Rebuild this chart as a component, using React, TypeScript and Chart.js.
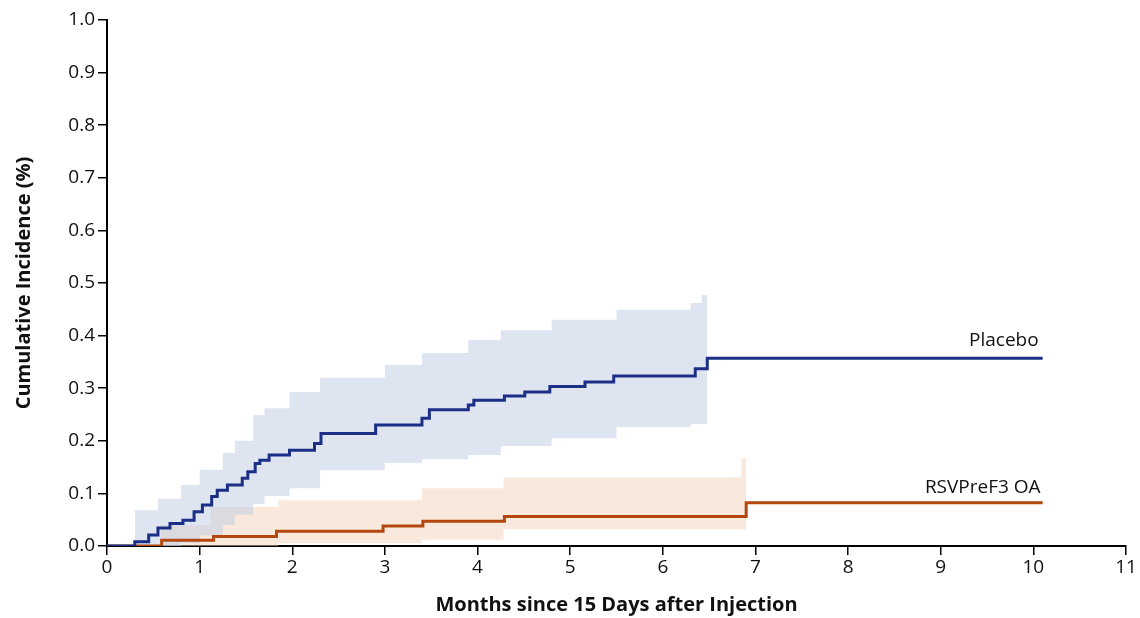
import React, { useEffect, useRef } from 'react';
import { Chart, registerables } from 'chart.js';

Chart.register(...registerables);

// Kaplan-Meier style step curves (month of step, cumulative incidence % after the step)
const placeboMonths = [0, 0.3, 0.45, 0.55, 0.68, 0.82, 0.94, 1.03, 1.13, 1.19, 1.3, 1.46, 1.52, 1.6, 1.65, 1.75, 1.97, 2.24, 2.31, 2.9, 3.4, 3.48, 3.9, 3.96, 4.29, 4.51, 4.78, 5.16, 5.47, 6.35, 6.48, 10.1];
const placeboValues = [0, 0.008, 0.021, 0.034, 0.043, 0.049, 0.065, 0.078, 0.094, 0.106, 0.116, 0.129, 0.141, 0.157, 0.163, 0.173, 0.182, 0.195, 0.214, 0.23, 0.243, 0.259, 0.268, 0.277, 0.285, 0.293, 0.303, 0.312, 0.323, 0.337, 0.357, 0.357];

const vaccineMonths = [0, 0.59, 1.15, 1.83, 2.98, 3.41, 4.29, 6.9, 10.1];
const vaccineValues = [0, 0.011, 0.018, 0.028, 0.038, 0.047, 0.056, 0.082, 0.082];

// 95% confidence bands
const placeboBandMonths = [0.3, 0.55, 0.8, 1.0, 1.25, 1.38, 1.58, 1.7, 1.97, 2.3, 3.0, 3.4, 3.9, 4.25, 4.8, 5.5, 6.3, 6.42, 6.48];
const placeboUpper = [0.068, 0.09, 0.116, 0.145, 0.177, 0.2, 0.249, 0.262, 0.293, 0.32, 0.344, 0.367, 0.392, 0.41, 0.43, 0.449, 0.462, 0.477, 0.477];
const placeboLower = [0.0, 0.0, 0.005, 0.02, 0.04, 0.06, 0.08, 0.095, 0.11, 0.144, 0.158, 0.165, 0.173, 0.19, 0.205, 0.226, 0.232, 0.232, 0.232];

const vaccineBandMonths = [0.58, 1.12, 1.85, 3.4, 4.28, 6.85, 6.9];
const vaccineUpper = [0.04, 0.074, 0.087, 0.11, 0.13, 0.167, 0.167];
const vaccineLower = [0.0, 0.0, 0.005, 0.012, 0.032, 0.032, 0.032];

const seriesNames = ['Placebo', 'RSVPreF3 OA'];
const xTitle = 'Months since 15 Days after Injection';
const yTitle = 'Cumulative Incidence (%)';

const FONT = '"Open Sans", "Noto Sans", sans-serif';

const pts = (xs: number[], ys: number[]) => xs.map((x, i) => ({ x, y: ys[i] }));

const labelPlugin = {
  id: 'seriesLabels',
  afterDatasetsDraw(chart: any) {
    const { ctx, scales } = chart;
    const x = scales.x;
    const y = scales.y;
    ctx.save();
    ctx.font = `19px ${FONT}`;
    ctx.fillStyle = '#111';
    ctx.textAlign = 'right';
    ctx.textBaseline = 'alphabetic';
    const pEnd = placeboMonths[placeboMonths.length - 1];
    const pVal = placeboValues[placeboValues.length - 1];
    ctx.fillText(seriesNames[0], x.getPixelForValue(pEnd) - 4, y.getPixelForValue(pVal) - 12);
    const vEnd = vaccineMonths[vaccineMonths.length - 1];
    const vVal = vaccineValues[vaccineValues.length - 1];
    ctx.fillText(seriesNames[1], x.getPixelForValue(vEnd) - 2, y.getPixelForValue(vVal) - 10);
    ctx.restore();
  },
};

export default function App() {
  const ref = useRef<HTMLCanvasElement>(null);

  useEffect(() => {
    if (!ref.current) return;
    const chart = new Chart(ref.current, {
      type: 'line',
      data: {
        datasets: [
          {
            label: seriesNames[0],
            data: pts(placeboMonths, placeboValues),
            stepped: 'before',
            borderColor: '#1b2f86',
            borderWidth: 3,
            pointRadius: 0,
            fill: false,
          },
          {
            label: seriesNames[1],
            data: pts(vaccineMonths, vaccineValues),
            stepped: 'before',
            borderColor: '#b3470e',
            borderWidth: 3,
            pointRadius: 0,
            fill: false,
          },
          {
            label: 'placeboUpper',
            data: pts(placeboBandMonths, placeboUpper),
            stepped: 'before',
            borderWidth: 0,
            borderColor: 'rgba(0,0,0,0)',
            backgroundColor: 'rgba(196, 206, 230, 0.55)',
            pointRadius: 0,
            fill: '+1',
          },
          {
            label: 'placeboLower',
            data: pts(placeboBandMonths, placeboLower),
            stepped: 'before',
            borderWidth: 0,
            borderColor: 'rgba(0,0,0,0)',
            pointRadius: 0,
            fill: false,
          },
          {
            label: 'vaccineUpper',
            data: pts(vaccineBandMonths, vaccineUpper),
            stepped: 'before',
            borderWidth: 0,
            borderColor: 'rgba(0,0,0,0)',
            backgroundColor: 'rgba(242, 212, 185, 0.5)',
            pointRadius: 0,
            fill: '+1',
          },
          {
            label: 'vaccineLower',
            data: pts(vaccineBandMonths, vaccineLower),
            stepped: 'before',
            borderWidth: 0,
            borderColor: 'rgba(0,0,0,0)',
            pointRadius: 0,
            fill: false,
          },
        ],
      },
      options: {
        responsive: false,
        animation: false,
        events: [],
        layout: { padding: { top: 20, right: 14, left: 0, bottom: 0 } },
        plugins: {
          legend: { display: false },
          tooltip: { enabled: false },
        },
        scales: {
          x: {
            type: 'linear',
            min: 0,
            max: 11,
            afterFit: (s: any) => { s.height = 72; },
            ticks: {
              stepSize: 1,
              color: '#111',
              font: { family: FONT, size: 19 },
              padding: 1,
            },
            grid: {
              drawOnChartArea: false,
              drawTicks: true,
              tickLength: 9,
              color: '#000',
              lineWidth: 1.5,
            },
            border: { display: true, color: '#000', width: 2 },
            title: {
              display: true,
              text: xTitle,
              color: '#111',
              font: { family: FONT, size: 20, weight: 'bold' },
              padding: { top: 0, bottom: 1 },
            },
          },
          y: {
            min: 0,
            max: 1,
            afterFit: (s: any) => { s.width = 107; },
            ticks: {
              stepSize: 0.1,
              color: '#111',
              font: { family: FONT, size: 19 },
              padding: 3,
              callback: (v: any) => Number(v).toFixed(1),
            },
            grid: {
              drawOnChartArea: false,
              drawTicks: true,
              tickLength: 9,
              color: '#000',
              lineWidth: 1.5,
            },
            border: { display: true, color: '#000', width: 2 },
            title: {
              display: true,
              text: yTitle,
              color: '#111',
              font: { family: FONT, size: 20, weight: 'bold' },
              padding: { top: 12, bottom: 0 },
            },
          },
        },
      },
      plugins: [labelPlugin],
    } as any);
    return () => chart.destroy();
  }, []);

  return (
    <div style={{ position: 'absolute', left: 0, top: 0, width: 1140, height: 618, background: '#fff' }}>
      <canvas ref={ref} width={1140} height={618} style={{ display: 'block' }} />
    </div>
  );
}
